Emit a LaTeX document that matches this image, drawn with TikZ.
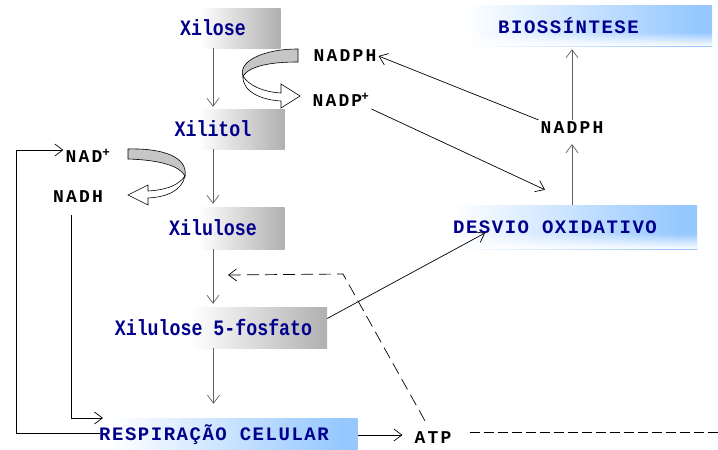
\documentclass[tikz,border=0pt]{standalone}
\usepackage{fontspec}
\usetikzlibrary{arrows.meta,fadings}
\newfontfamily\lblfont[LetterSpace=12]{Liberation Mono}
\newfontfamily\bluefont[LetterSpace=8]{Liberation Mono}
\newfontfamily\grayfont[FakeStretch=0.83]{Liberation Mono}
\definecolor{navytxt}{RGB}{0,0,140}
\definecolor{blueC}{RGB}{150,200,255}
\pgfdeclarehorizontalshading{grayfade}{100bp}{color(0bp)=(white); color(45bp)=(white); color(75bp)=(gray!62); color(100bp)=(gray!62)}
\pgfdeclarehorizontalshading{bluefade}{100bp}{color(0bp)=(white); color(32bp)=(white); color(72bp)=(blueC); color(100bp)=(blueC)}
\tikzfading[name=myfadeup, top color=transparent!100, bottom color=transparent!0]
\tikzset{
  gbox/.style={shade, shading=grayfade, inner sep=0pt, text=navytxt, font=\grayfont\bfseries\fontsize{22}{22}\selectfont},
  bbox/.style={shade, shading=bluefade, inner sep=0pt, text=navytxt, font=\bluefont\bfseries\fontsize{19}{19}\selectfont},
  lbl/.style={inner sep=2pt, font=\lblfont\bfseries\fontsize{18}{18}\selectfont},
  arr/.style={draw=black, line width=0.7pt, -{Straight Barb[length=8pt,width=12pt]}},
  garr/.style={arr, draw=gray!75!black},
  dsh/.style={dash pattern=on 12pt off 6pt},
  dshr/.style={line width=0.8pt, dash pattern=on 10pt off 4pt},
  curvg/.style={fill=gray!45, draw=black, line width=0.6pt},
  curvw/.style={fill=white, draw=black, line width=0.6pt},
}
\begin{document}
\begin{tikzpicture}[x=1pt,y=-1pt]
\useasboundingbox (0,0) rectangle (718,450);
% boxes
\node[gbox, minimum width=135pt, minimum height=40pt] (xilose) at (213,28) {Xilose};
\node[gbox, minimum width=143pt, minimum height=40pt] (xilitol) at (213,129) {Xilitol};
\node[gbox, minimum width=143pt, minimum height=42pt] (xilulose) at (213,228) {Xilulose};
\node[gbox, minimum width=227pt, minimum height=41pt] (x5f) at (213.5,327.5) {Xilulose 5-fosfato};
\node[bbox, minimum width=287pt, minimum height=34pt] (resp) at (214,435) {RESPIRAÇÃO CELULAR};
\node[bbox, minimum width=287pt, minimum height=41pt] (bio) at (568.5,25.5) {BIOSSÍNTESE};
\node[bbox, minimum width=284pt, minimum height=44pt] (desvio) at (555,227) {DESVIO OXIDATIVO};
\fill[white, path fading=myfadeup] (bio.south west) rectangle ([yshift=14pt]bio.south east);
\fill[white, path fading=myfadeup] (desvio.south west) rectangle ([yshift=16pt]desvio.south east);
% labels
\node[lbl] (nadph1) at (345,56) {NADPH};
\node[lbl] (nadp1) at (341,100) {NADP\kern-1pt\textsuperscript{+}};
\node[lbl] (nadph2) at (572,128) {NADPH};
\node[lbl] (nad) at (88,156) {NAD\textsuperscript{+}};
\node[lbl] (nadh) at (78,197) {NADH};
\node[lbl] (atp) at (433,438) {ATP};
% vertical pathway arrows
\draw[garr, shorten >=2pt] (xilose.south) -- (xilose.south |- xilitol.north);
\draw[garr, shorten >=3pt] (xilitol.south) -- (xilitol.south |- xilulose.north);
\draw[garr, shorten >=3pt] (xilulose.south) -- (xilulose.south |- x5f.north);
\draw[garr, shorten >=14pt] (x5f.south) -- (x5f.south |- resp.north);
% right side
\draw[garr, shorten >=3pt] (nadph2.north) -- (nadph2.north |- bio.south);
\draw[garr, shorten >=8pt] (desvio.north -| nadph2.south) -- (nadph2.south);
\draw[arr] (nadph2.north west) -- (nadph1.east);
\draw[arr] (nadp1.south east) -- ([xshift=-10pt,yshift=15pt]desvio.north);
\draw[arr] ([yshift=9pt]x5f.east) -- ([xshift=-70pt,yshift=-6pt]desvio.center);
\coordinate (edgeB) at (718,33);
\draw[arr, shorten >=14pt] (edgeB) -- (edgeB -| bio.east);
% left loop
\coordinate (rl) at (100,433);
\coordinate (lc) at (16,150);
\draw[arr] (rl) -| (lc) -- ([yshift=6pt]nad.west);
\coordinate (respin) at (103,418);
\draw[arr, shorten <=10pt] ([xshift=-7pt]nadh.south) |- (respin);
% ATP
\draw[arr, shorten >=10pt] (resp.east) -- (resp.east -| atp.west);
\coordinate (edgeR) at (718,432);
\draw[dshr, shorten <=16pt] (atp.east |- edgeR) -- (edgeR);
\coordinate (dk) at (343,274);
\coordinate (dtip) at (228,275);
\draw[arr, dsh] ([xshift=-8pt,yshift=9pt]atp.north) -- (dk) -- (dtip);
% curved arrows
\draw[curvw] (243,76) .. controls (242,92) and (262,100) .. (281,101) -- (281,108) -- (300,96) -- (281,84) -- (281,93) .. controls (264,92) and (249,86) .. (243,76) -- cycle;
\draw[curvg] (298,49) .. controls (262,49) and (238,62) .. (243,76) .. controls (250,66) and (270,62) .. (298,62) -- cycle;
\draw[curvw] (185,176) .. controls (182,190) and (168,197) .. (148,198) -- (148,205) -- (128,195) -- (148,185) -- (148,191) .. controls (165,190) and (178,186) .. (185,176) -- cycle;
\draw[curvg] (128,149) .. controls (165,148) and (188,158) .. (185,176) .. controls (180,166) and (160,160) .. (128,159) -- cycle;
\end{tikzpicture}
\end{document}
